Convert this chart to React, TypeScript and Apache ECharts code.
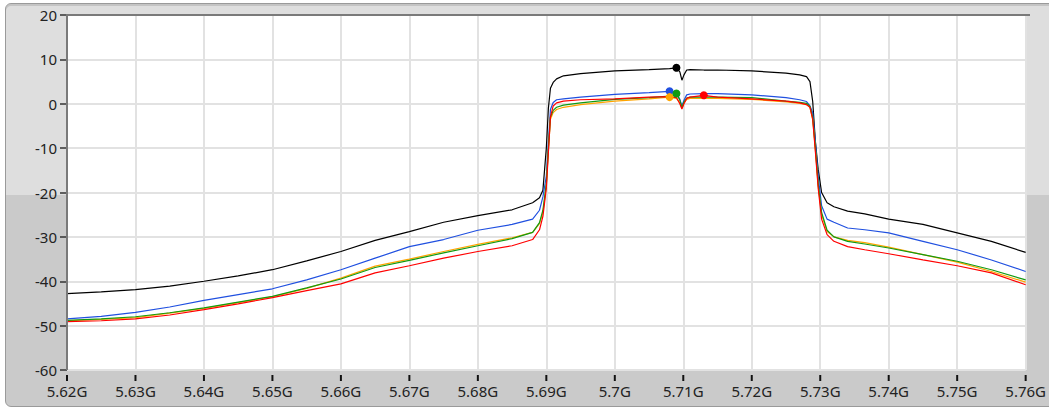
import React, { useEffect, useRef } from "react";
import * as echarts from "echarts";

// Frequency in GHz
const freq = [
  5.620, 5.625, 5.630, 5.635, 5.640, 5.645, 5.650, 5.655, 5.660, 5.665,
  5.670, 5.675, 5.680, 5.685, 5.688, 5.689, 5.6895, 5.6900, 5.6903, 5.6906,
  5.6910, 5.6915, 5.6925, 5.695, 5.700, 5.705, 5.708, 5.709, 5.7095, 5.7098,
  5.7101, 5.7105, 5.711, 5.713, 5.715, 5.720, 5.725, 5.727, 5.728, 5.7285,
  5.7289, 5.7293, 5.7297, 5.7302, 5.731, 5.732, 5.734, 5.7365, 5.740, 5.745,
  5.750, 5.755, 5.760,
];

const blackTrace = [
  -42.8, -42.4, -41.9, -41.1, -40.0, -38.8, -37.4, -35.4, -33.3, -30.8,
  -28.8, -26.7, -25.2, -23.9, -22.3, -21.2, -19.5, -10.0, -1.0, 3.5,
  4.8, 5.6, 6.3, 6.8, 7.4, 7.7, 7.9, 8.1, 7.2, 5.3,
  6.5, 7.6, 7.7, 7.6, 7.6, 7.4, 6.9, 6.5, 6.1, 5.0,
  0.5, -8.7, -14.8, -20.0, -22.3, -23.2, -24.2, -24.8, -26.0, -27.2,
  -29.1, -31.0, -33.5,
];

const blueTrace = [
  -48.5, -47.9, -47.0, -45.8, -44.3, -43.0, -41.7, -39.7, -37.4, -34.8,
  -32.2, -30.6, -28.5, -27.2, -26.0, -24.0, -21.0, -16.3, -8.8, -1.3,
  0.3, 0.9, 1.1, 1.5, 2.1, 2.5, 2.8, 2.4, 1.0, -0.5,
  0.8, 2.0, 2.2, 2.3, 2.3, 2.0, 1.4, 0.9, 0.5, -0.5,
  -2.0, -8.7, -16.3, -23.0, -26.0, -26.7, -28.0, -28.4, -29.1, -31.0,
  -32.9, -35.2, -37.8,
];

const orangeTrace = [
  -48.9, -48.6, -48.2, -47.2, -46.1, -44.8, -43.5, -41.6, -39.3, -36.6,
  -35.0, -33.3, -31.7, -30.2, -29.0, -27.0, -24.5, -18.5, -10.5, -3.5,
  -2.0, -1.3, -0.8, -0.2, 0.6, 1.1, 1.5, 1.2, 0.2, -1.0,
  0.2, 1.0, 1.2, 1.2, 1.2, 1.0, 0.4, 0.1, -0.2, -0.8,
  -3.5, -10.5, -18.5, -25.0, -28.8, -30.0, -30.8, -31.3, -32.3, -34.0,
  -35.7, -37.8, -40.2,
];

const greenTrace = [
  -48.8, -48.5, -48.0, -47.1, -46.0, -44.7, -43.4, -41.5, -39.5, -36.9,
  -35.3, -33.6, -32.0, -30.4, -29.0, -26.8, -24.0, -18.0, -10.0, -3.0,
  -1.5, -0.8, -0.3, 0.2, 1.0, 1.4, 1.7, 2.3, 0.8, -0.9,
  0.4, 1.3, 1.5, 1.5, 1.5, 1.4, 0.6, 0.3, 0.1, -0.6,
  -3.0, -10.0, -18.0, -24.5, -28.5, -30.0, -31.0, -31.6, -32.5, -34.0,
  -35.5, -37.4, -39.7,
];

const redTrace = [
  -49.1, -48.9, -48.5, -47.6, -46.4, -45.1, -43.7, -42.1, -40.6, -38.1,
  -36.5, -34.8, -33.3, -32.0, -30.6, -28.4, -25.4, -19.0, -11.0, -3.0,
  -0.5, 0.2, 0.6, 0.9, 1.1, 1.5, 1.6, 1.4, 0.0, -1.2,
  0.0, 1.2, 1.5, 1.9, 1.5, 1.1, 0.6, 0.2, -0.2, -0.8,
  -3.5, -11.0, -19.0, -26.0, -29.5, -31.0, -32.2, -32.9, -33.8, -35.2,
  -36.5, -38.1, -40.8,
];

const traces = [
  { name: "Trace 1", values: blackTrace, color: "#000000" },
  { name: "Trace 2", values: blueTrace, color: "#2050e0" },
  { name: "Trace 3", values: orangeTrace, color: "#ffa500" },
  { name: "Trace 4", values: greenTrace, color: "#129a12" },
  { name: "Trace 5", values: redTrace, color: "#ff0000" },
];

// x-axis tick values (GHz)
const xTicks = [
  5.62, 5.63, 5.64, 5.65, 5.66, 5.67, 5.68, 5.69, 5.70, 5.71, 5.72, 5.73, 5.74, 5.75, 5.76,
];

const xMin = 5.62;
const xMax = 5.76;
const xStep = 0.01;
const yMin = -60;
const yMax = 20;
const yStep = 10;

const FONT = "'Noto Sans', 'Open Sans', sans-serif";

const borderElement = {
  id: "plotBorder",
  type: "polyline",
  shape: { points: [[67, 370], [67, 15], [1030, 15]] },
  style: { stroke: "#7a7a7a", lineWidth: 2, fill: null },
  z: 100,
  silent: true,
};

export default function App() {
  const ref = useRef<HTMLDivElement>(null);

  useEffect(() => {
    if (!ref.current) return;
    const chart = echarts.init(ref.current, null, { renderer: "svg" });
    const option: any = {
      animation: false,
      grid: {
        left: 67,
        top: 15,
        right: 19,
        bottom: 42,
        show: true,
        backgroundColor: "#ffffff",
        borderWidth: 0,
      },
      xAxis: {
        type: "value",
        min: xMin,
        max: xMax,
        interval: xStep,
        axisLine: { show: false, onZero: false },
        axisTick: { show: false },
        axisLabel: {
          margin: 13,
          fontSize: 15,
          fontFamily: FONT,
          color: "#222222",
          formatter: (v: number) => `${parseFloat(v.toFixed(2))}G`,
        },
        splitLine: { show: true, lineStyle: { color: "#e2e2e2", width: 2 } },
      },
      yAxis: {
        type: "value",
        min: yMin,
        max: yMax,
        interval: yStep,
        axisLine: { show: false, onZero: false },
        axisTick: { show: true, length: 7, lineStyle: { color: "#333333", width: 1.5 } },
        axisLabel: {
          margin: 10,
          fontSize: 15,
          fontFamily: FONT,
          color: "#222222",
        },
        splitLine: { show: true, lineStyle: { color: "#e2e2e2", width: 2 } },
      },
      graphic: { elements: [borderElement] },
      series: [
        ...traces.map((t) => ({
          type: "line",
          name: t.name,
          data: freq.map((f, i) => [f, t.values[i]]),
          showSymbol: false,
          symbol: "none",
          lineStyle: { color: t.color, width: 1.2 },
          itemStyle: { color: t.color },
          markPoint: {
            symbol: "circle",
            symbolSize: 8,
            silent: true,
            label: { show: false },
            itemStyle: { color: t.color },
            data: [{ type: "max", valueIndex: 1 }],
          },
        })),
        {
          type: "custom",
          name: "xTicks",
          silent: true,
          clip: false,
          z: 50,
          data: xTicks.map((v) => [v, yMin]),
          renderItem: (params: any, api: any) => {
            const p = api.coord([api.value(0), api.value(1)]);
            return {
              type: "line",
              shape: { x1: p[0], y1: p[1] + 5, x2: p[0], y2: p[1] + 11 },
              style: { stroke: "#111111", lineWidth: 2 },
            };
          },
        },
      ],
    };
    chart.setOption(option);

    return () => chart.dispose();
  }, []);

  return (
    <div
      style={{
        position: "fixed",
        left: 0,
        top: 0,
        width: 1049,
        height: 412,
        background: "#ffffff",
        overflow: "hidden",
      }}
    >
      <div
        style={{
          position: "absolute",
          left: 5,
          top: 3,
          width: 1070,
          height: 402,
          border: "1px solid #9a9a9a",
          borderRadius: 6,
          boxShadow: "inset 0 2px 0 #c4c4c4",
          background:
            "linear-gradient(to bottom, #dedede 0%, #dedede 47.5%, #cacaca 47.5%, #cacaca 100%)",
        }}
      />
      <div
        ref={ref}
        style={{ position: "absolute", left: 0, top: 0, width: 1049, height: 412 }}
      />
    </div>
  );
}
